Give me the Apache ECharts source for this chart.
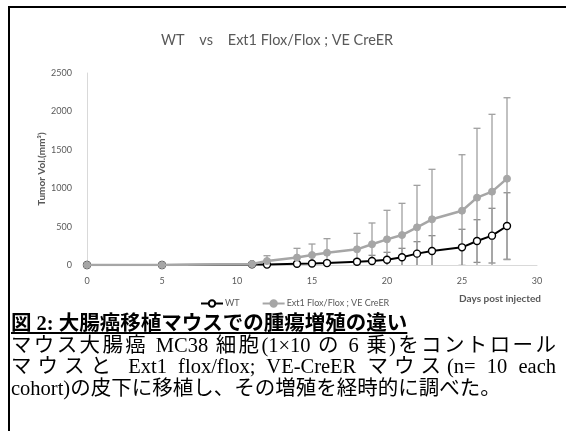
<!DOCTYPE html>
<html>
<head>
<meta charset="utf-8">
<script src="https://cdn.jsdelivr.net/npm/echarts@6/dist/echarts.min.js"></script>
<style>
  body { margin: 0; background: #fff; }
  #wrap { position: relative; width: 566px; height: 431px; overflow: hidden; background: #fff; }
  #chart { position: absolute; left: 0; top: 0; width: 566px; height: 431px; }
  #frame { position: absolute; left: 8px; top: 6px; right: -4px; bottom: -4px;
           border-left: 2px solid #000; border-top: 2px solid #000; pointer-events: none; }
  #cap { position: absolute; left: 11px; top: 313px; width: 545px;
         font-family: "Liberation Serif", "Noto Sans CJK JP", serif; font-size: 20.5px;
         line-height: 21.5px; color: #000; }
  #cap .ttl { font-weight: bold; text-decoration: underline; }
  #cap .j { text-align: justify; text-align-last: justify; }
</style>
</head>
<body>
<div id="wrap">
  <div id="chart"></div>
  <div id="frame"></div>
  <div id="cap">
    <div class="ttl">図 2: 大腸癌移植マウスでの腫瘍増殖の違い</div>
    <div class="j">マウス大腸癌 MC38 細胞(1×10 の 6 乗)をコントロール</div>
    <div class="j">マウスと Ext1 flox/flox; VE-CreER マウス(n= 10 each</div>
    <div>cohort)の皮下に移植し、その増殖を経時的に調べた。</div>
  </div>
</div>
<script>
// days post injection
var days = [0, 5, 11, 12, 14, 15, 16, 18, 19, 20, 21, 22, 23, 25, 26, 27, 28];
// WT mean / SD (mm3)
var wtMean = [0, 0, 8, 5, 17, 20, 25, 43, 52, 69, 100, 148, 182, 230, 312, 382, 508];
var wtSd   = [0, 0, 3, 8, 12, 15, 20, 30, 74, 96, 117, 156, 200, 235, 278, 356, 433];
// Ext1 Flox/Flox ; VE CreER mean / SD
var extMean = [0, 0, 12, 52, 97, 130, 160, 204, 270, 334, 390, 490, 595, 707, 877, 955, 1124];
var extSd   = [0, 0, 5, 69, 120, 143, 183, 208, 277, 378, 413, 547, 651, 729, 903, 1007, 1054];

var yTicks = [0, 500, 1000, 1500, 2000, 2500];
var xTicks = [0, 5, 10, 15, 20, 25, 30];

var gray = '#595959';
var chart = echarts.init(document.getElementById('chart'));

function pairs(means) {
    return days.map(function (d, i) { return [d, means[i]]; });
}

function errorBars(name, means, sds, color) {
    return {
        type: 'custom',
        name: name,
        clip: true,
        silent: true,
        z: 1,
        data: days.map(function (d, i) { return [d, means[i] - sds[i], means[i] + sds[i], sds[i]]; }),
        renderItem: function (params, api) {
            if (!api.value(3)) return null;
            var x = api.value(0);
            var lo = api.coord([x, api.value(1)]);
            var hi = api.coord([x, api.value(2)]);
            var w = 3.5;
            var st = { stroke: color, lineWidth: 1.3 };
            return {
                type: 'group',
                children: [
                    { type: 'line', shape: { x1: lo[0], y1: lo[1], x2: hi[0], y2: hi[1] }, style: st },
                    { type: 'line', shape: { x1: hi[0] - w, y1: hi[1], x2: hi[0] + w, y2: hi[1] }, style: st },
                    { type: 'line', shape: { x1: lo[0] - w, y1: lo[1], x2: lo[0] + w, y2: lo[1] }, style: st }
                ]
            };
        }
    };
}

var option = {
    backgroundColor: '#fff',
    animation: false,
    textStyle: { fontFamily: 'Lato' },
    title: {
        text: 'WT    vs    Ext1 Flox/Flox ; VE CreER',
        left: 272,
        top: 28,
        textAlign: 'center',
        textStyle: { color: gray, fontSize: 14.5, fontWeight: 'normal', fontFamily: 'Lato' }
    },
    grid: { left: 87, right: 29, top: 73, bottom: 166, containLabel: false },
    legend: {
        data: ['WT', 'Ext1 Flox/Flox ; VE CreER'],
        left: 195,
        top: 294,
        itemWidth: 22,
        itemHeight: 8,
        itemGap: 22,
        textStyle: { color: gray, fontSize: 9, padding: [0, 0, 0, -3] }
    },
    xAxis: {
        type: 'value',
        min: 0,
        max: 30,
        interval: 5,
        axisLine: { lineStyle: { color: '#d9d9d9', width: 1 } },
        axisTick: { show: false },
        splitLine: { show: false },
        axisLabel: {
            color: gray, fontSize: 9, margin: 12,
            formatter: function (v) { return xTicks.indexOf(v) >= 0 ? String(v) : ''; }
        }
    },
    yAxis: {
        type: 'value',
        min: 0,
        max: 2500,
        interval: 500,
        name: 'Tumor Vol.(mm³)',
        nameLocation: 'middle',
        nameGap: 40,
        nameMoveOverlap: false,
        nameTextStyle: { color: gray, fontSize: 10, fontWeight: 'bold' },
        axisLine: { show: true, lineStyle: { color: '#d9d9d9', width: 1 } },
        axisTick: { show: false },
        splitLine: { show: false },
        axisLabel: {
            color: gray, fontSize: 9, margin: 15,
            formatter: function (v) { return yTicks.indexOf(v) >= 0 ? String(v) : ''; }
        }
    },
    graphic: [
        {
            type: 'text',
            right: 25,
            top: 294,
            style: { text: 'Days post injected', fill: gray, font: 'bold 10px Lato' }
        }
    ],
    series: [
        errorBars('WT-err', wtMean, wtSd, '#8c8c8c'),
        errorBars('Ext1-err', extMean, extSd, '#a0a0a0'),
        {
            name: 'WT',
            type: 'line',
            z: 3,
            data: pairs(wtMean),
            symbol: 'circle',
            symbolSize: 7,
            lineStyle: { color: '#000', width: 2 },
            itemStyle: { color: '#fff', borderColor: '#000', borderWidth: 1.4 }
        },
        {
            name: 'Ext1 Flox/Flox ; VE CreER',
            type: 'line',
            z: 4,
            data: pairs(extMean),
            symbol: 'circle',
            symbolSize: 7,
            lineStyle: { color: '#a6a6a6', width: 2.5 },
            itemStyle: { color: '#a6a6a6', borderColor: '#a6a6a6', borderWidth: 1 }
        }
    ]
};

chart.setOption(option);
window.addEventListener('resize', chart.resize);
</script>
</body>
</html>
